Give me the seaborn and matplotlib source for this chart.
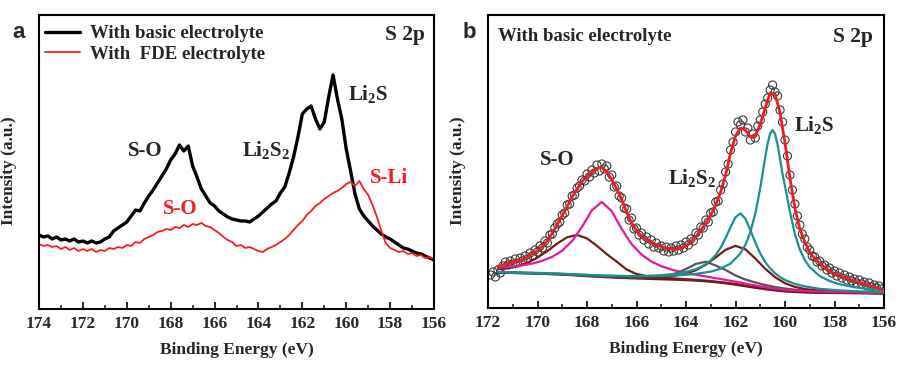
import numpy as np
import matplotlib
matplotlib.use('Agg')
import matplotlib.pyplot as plt
from matplotlib.ticker import MultipleLocator
import seaborn as sns

# ---------------- panel a : S 2p spectra, two electrolytes ----------------
energy_a = np.round(np.arange(174.0, 155.9, -0.2), 1)   # 174.0 ... 156.0
basic_a = [74, 72, 73, 70, 72, 69, 70, 68, 70, 67,
           68, 66, 68, 66, 67, 70, 72, 78, 81, 84,
           87, 93, 99, 98, 106, 113, 119, 126, 133, 140,
           149, 155, 164, 158, 163, 143, 132, 120, 113, 106,
           103, 98, 95, 92, 90, 89, 88, 88, 87, 90,
           93, 97, 101, 105, 108, 116, 122, 136, 152, 172,
           195, 200, 203, 190, 180, 187, 212, 234, 210, 190,
           160, 138, 115, 100, 93, 88, 83, 79, 75, 72,
           70, 67, 64, 61, 60, 58, 56, 55, 53, 51,
           49]
fde_a = [65, 63, 64, 62, 63, 60, 62, 59, 61, 58,
         60, 58, 60, 57, 59, 58, 61, 60, 62, 61,
         64, 63, 67, 66, 70, 72, 74, 77, 78, 80,
         79, 82, 81, 84, 82, 85, 84, 86, 83, 82,
         79, 76, 72, 69, 67, 63, 64, 61, 62, 60,
         58, 57, 60, 62, 64, 67, 70, 74, 79, 84,
         88, 94, 98, 103, 106, 110, 113, 116, 118, 121,
         125, 127, 123, 128, 120, 114, 104, 92, 78, 66,
         61, 59, 57, 58, 55, 56, 53, 54, 51, 52,
         50]

# ---------------- panel b : peak fit, basic electrolyte ----------------
energy_pts = np.round(np.arange(171.9, 156.05, -0.1), 1)  # 171.9 ... 156.1
raw_pts = [33, 36, 31, 38, 35, 42, 46, 43, 47, 44,
           49, 45, 50, 47, 52, 49, 55, 52, 58, 56,
           62, 60, 67, 65, 73, 74, 80, 84, 86, 93,
           95, 103, 104, 112, 113, 120, 122, 128, 127, 134,
           131, 138, 135, 143, 137, 144, 139, 142, 131, 133,
           121, 122, 112, 110, 100, 99, 88, 90, 79, 80,
           73, 75, 68, 71, 64, 68, 61, 65, 60, 62,
           57, 61, 56, 60, 57, 62, 58, 63, 60, 66,
           63, 69, 67, 75, 73, 81, 80, 88, 86, 95,
           96, 106, 107, 118, 124, 136, 144, 158, 166, 176,
           186, 183, 188, 176, 180, 168, 174, 170, 182, 188,
           196, 204, 210, 218, 223, 216, 212, 198, 186, 168,
           152, 133, 118, 104, 92, 83, 74, 69, 61, 58,
           52, 51, 46, 47, 42, 43, 38, 40, 35, 37,
           32, 35, 30, 33, 28, 31, 27, 29, 25, 28,
           24, 26, 22, 25, 21, 23, 20, 22, 19]

energy_fit = np.round(np.arange(171.6, 155.9, -0.2), 1)  # 171.6 ... 156.0
envelope = [41.5, 43, 44.5, 46, 47, 48.5, 51, 54.5, 57.5, 62,
            67.5, 75, 83.5, 92.5, 101.5, 111, 119, 126.5, 131.5, 136,
            139.5, 140.5, 136, 128.5, 119, 108.5, 96, 85, 77.5, 72,
            68.5, 65.5, 63, 61.5, 60, 59, 59, 60, 62.5, 66.5,
            71.5, 78, 85, 93, 103, 116, 133, 155, 172, 180,
            178, 171, 172, 184, 200, 215, 214, 195, 165, 130,
            100, 79, 66, 55.5, 49.5, 45, 40.5, 37, 34.5, 32.5,
            30.5, 28.5, 27, 25.5, 24, 22.5, 21, 19.5, 18.5]

energy_coarse = np.round(np.arange(171.6, 155.9, -0.4), 1)  # 171.6 ... 156.0
background = [35.5, 35.2, 34.9, 34.6, 34.3, 34.0, 33.6, 33.1, 32.5, 31.9,
              31.3, 30.8, 30.3, 29.9, 29.5, 29.2, 28.9, 28.6, 28.3, 27.9,
              27.4, 26.7, 25.8, 24.7, 23.3, 21.8, 20.2, 18.8, 17.6, 16.6,
              16.0, 15.6, 15.3, 15.1, 15.0, 14.9, 14.8, 14.7, 14.6, 14.5]
so_low = [39.0, 40.1, 42.0, 45.4, 50.4, 57.0, 64.5, 70.8, 73.0, 69.6,
          62.2, 53.8, 46.4, 38.5, 34.0, 32.0, 30.8, 30.0, 29.4, 28.8,
          28.2, 27.4, 26.4, 25.3, 23.9, 22.4, 20.8, 19.4, 18.2, 17.1,
          16.5, 16.0, 15.7, 15.5, 15.3, 15.2, 15.1, 15.0, 14.8, 14.7]
li2s2_b = [35.6, 35.3, 35.0, 34.8, 34.5, 34.2, 33.8, 33.4, 32.8, 32.2,
           31.7, 31.3, 30.9, 30.6, 30.4, 30.5, 30.9, 32.1, 34.7, 39.0,
           44.1, 46.3, 42.5, 38.0, 32.5, 28.5, 25.5, 23.0, 21.0, 19.5,
           18.3, 17.4, 16.7, 16.2, 15.9, 15.7, 15.5, 15.3, 15.1, 15.0]
li2s2_a = [35.8, 35.5, 35.2, 35.0, 34.7, 34.4, 34.1, 33.6, 33.1, 32.5,
           32.1, 31.7, 31.3, 31.1, 30.9, 30.9, 31.0, 31.5, 32.5, 34.3,
           37.8, 43.3, 50.6, 58.2, 62.1, 58.7, 49.5, 39.3, 30.8, 24.8,
           21.1, 19.0, 17.8, 17.0, 16.6, 16.2, 15.9, 15.6, 15.4, 15.2]

energy_so = [171.6, 171.4, 171.0, 170.6, 170.2, 169.8, 169.4, 169.0, 168.6, 168.2,
             167.8, 167.4, 167.0, 166.6, 166.2, 165.8, 165.4, 165.0, 164.6, 164.2,
             163.8, 163.4, 163.0, 162.6, 162.2, 161.8, 161.4, 161.0, 160.6, 160.2,
             159.8, 159.4, 159.0, 158.6, 158.2, 157.8, 157.4, 157.0, 156.6, 156.2,
             156.0]
so_main = [40.3, 40.6, 41.5, 42.7, 44.5, 47.2, 51.2, 57.4, 67.0, 81.2,
           97.8, 106.0, 96.8, 79.1, 63.9, 53.5, 46.5, 41.8, 38.5, 36.0,
           34.1, 32.4, 30.7, 29.0, 27.2, 25.4, 23.4, 21.7, 20.1, 18.8,
           17.8, 17.2, 16.8, 16.4, 16.1, 15.9, 15.8, 15.6, 15.4, 15.3,
           15.2]

energy_li2s_b = [171.6, 170.4, 169.2, 168.0, 167.2, 166.4, 165.6, 165.0, 164.4, 164.0,
                 163.6, 163.4, 163.2, 163.0, 162.8, 162.6, 162.4, 162.2, 162.0, 161.8,
                 161.6, 161.4, 161.2, 161.0, 160.8, 160.6, 160.4, 160.2, 160.0, 159.6,
                 159.2, 158.6, 157.8, 157.0, 156.0]
li2s_b = [35.9, 35.2, 34.4, 33.0, 32.3, 31.9, 32.1, 32.8, 34.3, 36.0,
          38.8, 40.9, 43.8, 47.6, 53.0, 60.3, 69.9, 81.0, 90.8, 94.6,
          89.3, 78.0, 65.4, 54.6, 46.0, 39.6, 34.7, 30.9, 28.0, 24.1,
          21.6, 19.2, 17.6, 16.6, 15.8]

energy_li2s_a = [171.6, 170.0, 168.4, 167.2, 166.0, 165.0, 164.2, 163.6, 163.0, 162.6,
                 162.2, 161.8, 161.6, 161.4, 161.2, 161.0, 160.9, 160.8, 160.7, 160.6,
                 160.5, 160.4, 160.3, 160.2, 160.1, 160.0, 159.8, 159.6, 159.4, 159.2,
                 159.0, 158.6, 158.2, 157.8, 157.2, 156.6, 156.0]
li2s_a = [36.1, 35.1, 33.6, 32.3, 31.7, 32.1, 32.9, 34.1, 36.4, 39.3,
          44.4, 54.6, 63.2, 75.9, 94.3, 120.0, 135.2, 150.7, 164.6, 174.5,
          177.9, 173.9, 163.5, 149.0, 134.0, 122.0, 96.0, 74.0, 58.5, 48.0,
          40.8, 32.0, 27.0, 23.8, 20.8, 19.0, 17.8]

# ---------------- style ----------------
sns.set_style('ticks')
plt.rcParams['font.family'] = ['Liberation Serif', 'DejaVu Serif']
plt.rcParams['font.weight'] = 'bold'
plt.rcParams['mathtext.fontset'] = 'custom'
plt.rcParams['mathtext.rm'] = 'Liberation Serif:bold'
plt.rcParams['mathtext.it'] = 'Liberation Serif:bold'
plt.rcParams['mathtext.bf'] = 'Liberation Serif:bold'

fig = plt.figure(figsize=(8.98, 3.65), dpi=100)
ax_a = fig.add_axes([39 / 898, 1 - 309 / 365, 395 / 898, 294 / 365])
ax_b = fig.add_axes([488 / 898, 1 - 308 / 365, 396 / 898, 293 / 365])

# panel a
sns.lineplot(x=energy_a, y=basic_a, ax=ax_a, color='black', lw=2.4,
             label='With basic electrolyte')
sns.lineplot(x=energy_a, y=fde_a, ax=ax_a, color='#ff1a1a', lw=1.3,
             label='With  FDE electrolyte')
ax_a.legend(loc='upper left', bbox_to_anchor=(0.0, 0.985), frameon=False,
            fontsize=13.5, handlelength=1.9, handletextpad=0.5,
            labelspacing=0.2, borderpad=0.3, borderaxespad=0.0)

# panel b
sns.scatterplot(x=energy_pts, y=raw_pts, ax=ax_b, s=34, marker='o',
                facecolor='none', edgecolor='#3a3a3a', linewidth=0.8, zorder=2)
sns.lineplot(x=energy_coarse, y=background, ax=ax_b, color='#5c1f1f', lw=1.6, zorder=3)
sns.lineplot(x=energy_coarse, y=li2s2_b, ax=ax_b, color='#555555', lw=1.6, zorder=3)
sns.lineplot(x=energy_coarse, y=li2s2_a, ax=ax_b, color='#7b1818', lw=1.6, zorder=3)
sns.lineplot(x=energy_coarse, y=so_low, ax=ax_b, color='#7b1818', lw=1.6, zorder=3)
sns.lineplot(x=energy_so, y=so_main, ax=ax_b, color='#e4199a', lw=1.6, zorder=3)
sns.lineplot(x=energy_li2s_b, y=li2s_b, ax=ax_b, color='#199090', lw=1.6, zorder=3)
sns.lineplot(x=energy_li2s_a, y=li2s_a, ax=ax_b, color='#199090', lw=1.6, zorder=3)
sns.lineplot(x=energy_fit, y=envelope, ax=ax_b, color='#ee1d23', lw=2.0, zorder=4)

for ax, lo, ylim in [(ax_a, 174, 294), (ax_b, 172, 293)]:
    ax.set_xlim(lo, 156)
    ax.set_ylim(0, ylim)
    ax.set_xticks(np.arange(lo, 155, -2))
    ax.xaxis.set_minor_locator(MultipleLocator(1))
    ax.set_yticks([])
    ax.tick_params(axis='x', which='major', direction='in', length=5, width=1.4,
                   labelsize=12.5, pad=5)
    ax.tick_params(axis='x', which='minor', direction='in', length=3, width=1.2)
    for sp in ax.spines.values():
        sp.set_visible(True)
        sp.set_linewidth(1.5)
        sp.set_color('black')
    ax.set_xlabel('Binding Energy (eV)', fontsize=12.5, fontweight='bold', labelpad=7)
    ax.set_ylabel('Intensity (a.u.)', fontsize=12.5, fontweight='bold')
    ax.yaxis.set_label_coords(-0.055, 0.47)

# annotations, panel a
ax_a.text(0.977, 0.932, 'S 2p', transform=ax_a.transAxes, ha='right', va='center', fontsize=15.5)
ax_a.text(0.268, 0.537, 'S-O', transform=ax_a.transAxes, ha='center', va='center', fontsize=15)
ax_a.text(0.575, 0.54, 'Li$_2$S$_2$', transform=ax_a.transAxes, ha='center', va='center', fontsize=15)
ax_a.text(0.833, 0.73, 'Li$_2$S', transform=ax_a.transAxes, ha='center', va='center', fontsize=15)
ax_a.text(0.886, 0.446, 'S-Li', transform=ax_a.transAxes, ha='center', va='center',
          fontsize=15, color='#ff1a1a')
ax_a.text(0.357, 0.340, 'S-O', transform=ax_a.transAxes, ha='center', va='center',
          fontsize=15, color='#ff1a1a')

# annotations, panel b
ax_b.text(0.025, 0.928, 'With basic electrolyte', transform=ax_b.transAxes,
          ha='left', va='center', fontsize=13.5)
ax_b.text(0.972, 0.925, 'S 2p', transform=ax_b.transAxes, ha='right', va='center', fontsize=15.5)
ax_b.text(0.174, 0.505, 'S-O', transform=ax_b.transAxes, ha='center', va='center', fontsize=15)
ax_b.text(0.515, 0.445, 'Li$_2$S$_2$', transform=ax_b.transAxes, ha='center', va='center', fontsize=15)
ax_b.text(0.823, 0.625, 'Li$_2$S', transform=ax_b.transAxes, ha='center', va='center', fontsize=15)

# panel letters
fig.text(19 / 898, 1 - 33 / 365, 'a', family=['Liberation Sans', 'DejaVu Sans'],
         fontweight='bold', fontsize=16, ha='center', va='center')
fig.text(469 / 898, 1 - 33 / 365, 'b', family=['Liberation Sans', 'DejaVu Sans'],
         fontweight='bold', fontsize=16, ha='center', va='center')

fig.savefig('out.png', dpi=100)
